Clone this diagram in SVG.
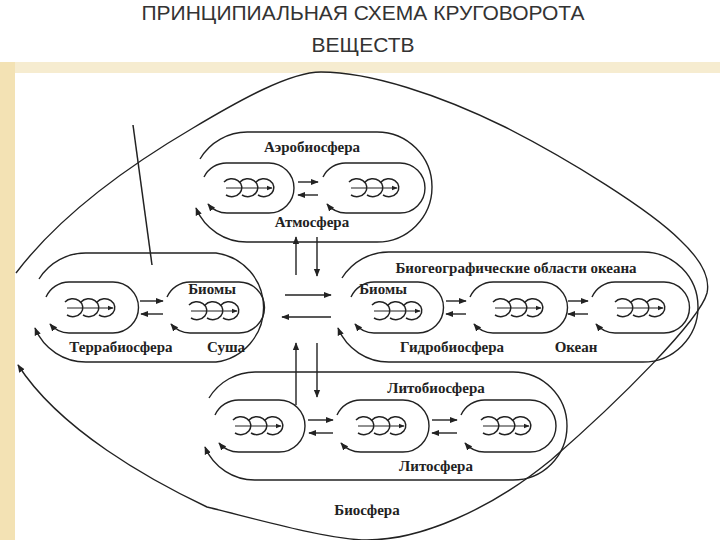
<svg xmlns="http://www.w3.org/2000/svg" xmlns:xlink="http://www.w3.org/1999/xlink" width="720" height="540" viewBox="0 0 720 540">
<style>
.ln{fill:none;stroke:#222;stroke-width:1.5}
.ar{fill:none;stroke:#222;stroke-width:1.4;marker-end:url(#ah)}
.lb{font-family:"Liberation Serif",serif;font-weight:bold;font-size:15px;fill:#222;text-anchor:middle}
.tt{font-family:"Liberation Sans",sans-serif;font-size:21px;fill:#333;text-anchor:middle}
</style>
<defs>
<marker id="ah" viewBox="0 0 10 10" refX="9" refY="5" markerWidth="8" markerHeight="8" markerUnits="userSpaceOnUse" orient="auto"><path d="M0,1 L10,5 L0,9 Z" fill="#222"/></marker>
<marker id="as" viewBox="0 0 10 10" refX="9" refY="5" markerWidth="6" markerHeight="6" markerUnits="userSpaceOnUse" orient="auto"><path d="M0,1 L10,5 L0,9 Z" fill="#222"/></marker>
<g id="chain">
<path class="ln" d="M-26,-6 A10 9 0 1 1 -24,7 M-10,-6 A10 9 0 1 1 -8,7 M6,-6 A10 9 0 1 1 8,7"/>
<path d="M-24,0 H22" fill="none" stroke="#222" stroke-width="1.2" marker-end="url(#as)"/>
</g>
</defs>
<rect width="720" height="540" fill="#fff"/>
<rect x="0" y="62" width="720" height="11" fill="#f6ecd0"/>
<rect x="0" y="62" width="15" height="478" fill="#f3e2b4"/>
<text class="tt" x="363" y="20">ПРИНЦИПИАЛЬНАЯ СХЕМА КРУГОВОРОТА</text>
<text class="tt" x="363" y="52">ВЕЩЕСТВ</text>

<g id="biosphere">
<path class="ar" d="M16,273 C60,215 130,165 193,128 C240,100 290,72 321,72 C370,72 440,95 505,127 C570,160 650,210 680,240 Q712,270 707,293 C700,320 620,400 551,460 C490,510 420,540 367,540 C330,540 260,520 207,507 C150,480 60,430 18,365"/>
<text class="lb" x="367" y="515">Биосфера</text>
<path class="ln" d="M133,125 L152,265"/>
</g>

<g id="aero">
<path class="ar" d="M200,159 A55 55 0 0 1 248,132 H377 A55 55 0 0 1 377,242 H248 A55 55 0 0 1 196,208"/>
<path class="ar" d="M204,177 A25 25 0 0 1 227,163 H269 A25 25 0 0 1 269,213 H227 A25 25 0 0 1 208,204"/>
<path class="ar" d="M323,177 A25 25 0 0 1 346,163 H400 A25 25 0 0 1 400,213 H346 A25 25 0 0 1 327,204"/>
<use xlink:href="#chain" x="250" y="188"/>
<use xlink:href="#chain" x="375" y="188"/>
<text class="lb" x="312" y="152">Аэробиосфера</text>
<text class="lb" x="312" y="227">Атмосфера</text>
</g>

<g id="terra">
<path class="ar" d="M39,279 A55 55 0 0 1 87,253 H216 A55 55 0 0 1 216,362 H87 A55 55 0 0 1 35,328"/>
<path class="ar" d="M46,297 A25.5 25.5 0 0 1 69,282 H113 A25.5 25.5 0 0 1 113,333 H69 A25.5 25.5 0 0 1 50,324"/>
<path class="ar" d="M167,297 A25.5 25.5 0 0 1 190,282 H239 A25.5 25.5 0 0 1 239,333 H190 A25.5 25.5 0 0 1 171,324"/>
<use xlink:href="#chain" x="91" y="308"/>
<use xlink:href="#chain" x="215" y="311"/>
<text class="lb" x="212" y="294">Биомы</text>
<text class="lb" x="121" y="352">Террабиосфера</text>
<text class="lb" x="226" y="352">Суша</text>
</g>

<g id="hydro">
<path class="ar" d="M342,278 A55 55 0 0 1 390,252 H643 A55 55 0 0 1 643,362 H390 A55 55 0 0 1 338,328"/>
<path class="ar" d="M351,297 A25.5 25.5 0 0 1 374,282 H418 A25.5 25.5 0 0 1 418,333 H374 A25.5 25.5 0 0 1 355,324"/>
<path class="ar" d="M470,297 A25.5 25.5 0 0 1 493,282 H542 A25.5 25.5 0 0 1 542,333 H493 A25.5 25.5 0 0 1 474,324"/>
<path class="ar" d="M592,297 A25.5 25.5 0 0 1 615,282 H664 A25.5 25.5 0 0 1 664,333 H615 A25.5 25.5 0 0 1 596,324"/>
<use xlink:href="#chain" x="398" y="311"/>
<use xlink:href="#chain" x="519" y="308"/>
<use xlink:href="#chain" x="641" y="308"/>
<text class="lb" x="516" y="273">Биогеографические области океана</text>
<text class="lb" x="383" y="294">Биомы</text>
<text class="lb" x="452" y="352">Гидробиосфера</text>
<text class="lb" x="576" y="352">Океан</text>
</g>

<g id="litho">
<path class="ar" d="M209,398 A54 54 0 0 1 256,372 H513 A54 54 0 0 1 513,480 H256 A54 54 0 0 1 205,447"/>
<path class="ar" d="M215,415 A26 26 0 0 1 239,400 H279 A26 26 0 0 1 279,452 H239 A26 26 0 0 1 219,443"/>
<path class="ar" d="M337,415 A26 26 0 0 1 361,400 H403 A26 26 0 0 1 403,452 H361 A26 26 0 0 1 341,443"/>
<path class="ar" d="M461,415 A26 26 0 0 1 485,400 H530 A26 26 0 0 1 530,452 H485 A26 26 0 0 1 465,443"/>
<use xlink:href="#chain" x="259" y="426"/>
<use xlink:href="#chain" x="382" y="426"/>
<use xlink:href="#chain" x="507" y="426"/>
<text class="lb" x="436" y="393">Литобиосфера</text>
<text class="lb" x="436" y="471">Литосфера</text>
</g>

<g id="connectors">
<path class="ar" d="M298,182 H318"/><path class="ar" d="M318,195 H298"/>
<path class="ar" d="M140,301 H163"/><path class="ar" d="M163,314 H141"/>
<path class="ar" d="M446,301 H466"/><path class="ar" d="M466,314 H446"/>
<path class="ar" d="M568,301 H588"/><path class="ar" d="M588,314 H568"/>
<path class="ar" d="M308,420 H333"/><path class="ar" d="M333,433 H309"/>
<path class="ar" d="M432,420 H457"/><path class="ar" d="M457,433 H432"/>
<path class="ar" d="M296,275 V237"/><path class="ar" d="M317,237 V276"/>
<path class="ar" d="M285,295 H331"/><path class="ar" d="M331,317 H282"/>
<path class="ar" d="M296,405 V343"/><path class="ar" d="M317,343 V397"/>
</g>
</svg>
